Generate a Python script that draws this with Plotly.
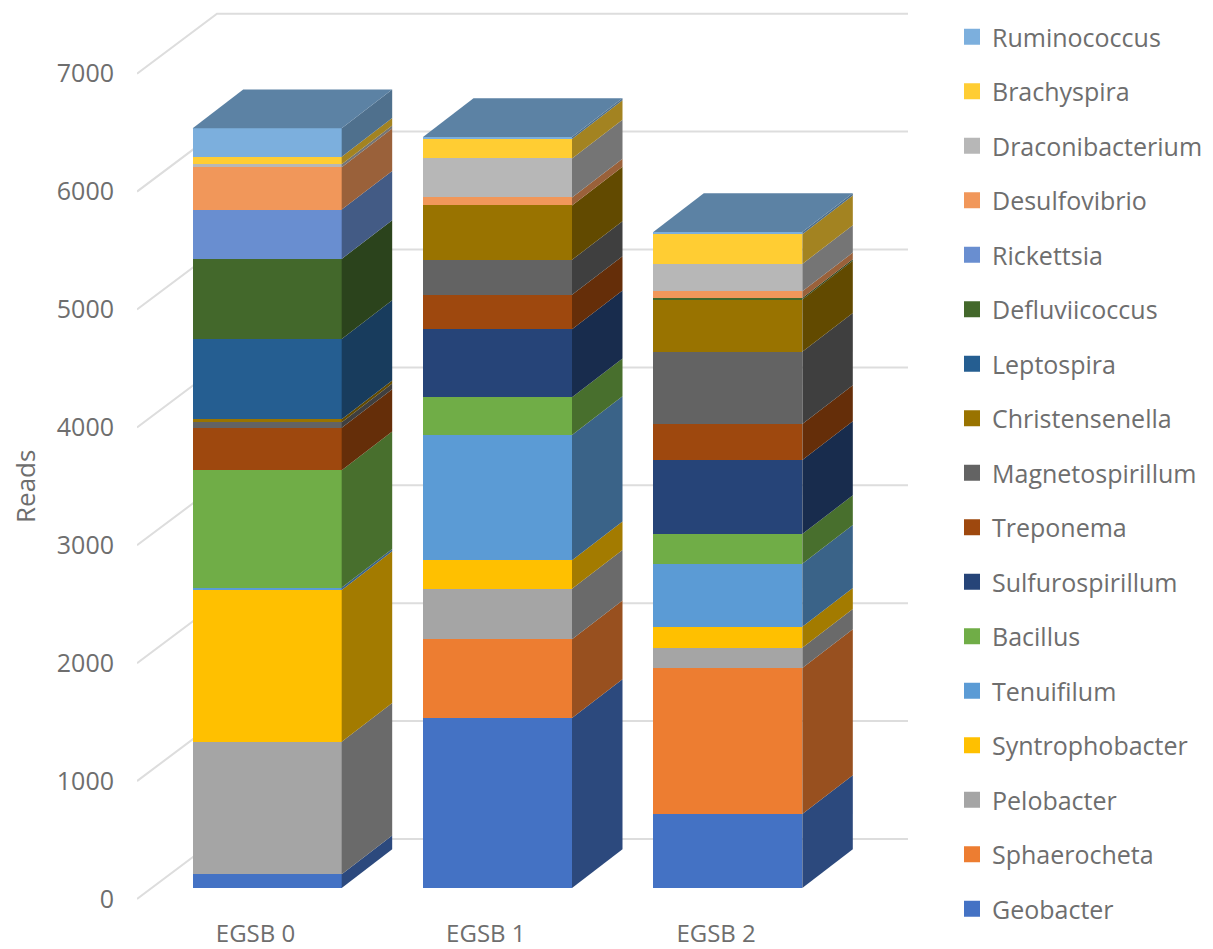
import numpy as np
import plotly.graph_objects as go

GROUPS = ["EGSB 0", "EGSB 1", "EGSB 2"]

# Stack order, bottom to top
SPECIES = [
    "Geobacter", "Sphaerocheta", "Pelobacter", "Syntrophobacter", "Tenuifilum",
    "Bacillus", "Sulfurospirillum", "Treponema", "Magnetospirillum", "Christensenella",
    "Leptospira", "Defluviicoccus", "Rickettsia", "Desulfovibrio", "Draconibacterium",
    "Brachyspira", "Ruminococcus",
]
COLORS = [
    "#4472C4", "#ED7D31", "#A5A5A5", "#FFC000", "#5B9BD5",
    "#70AD47", "#264478", "#9E480E", "#636363", "#997300",
    "#255E91", "#43682B", "#698ED0", "#F1975A", "#B7B7B7",
    "#FFCD33", "#7CAFDD",
]

# Reads per species, one list per reactor
EGSB_0 = [116, 0, 1125, 1287, 20, 996, 0, 359, 48, 25, 681, 679, 418, 360, 25, 64, 241]
EGSB_1 = [1442, 668, 429, 241, 1063, 320, 577, 291, 297, 461, 0, 0, 0, 68, 331, 165, 17]
EGSB_2 = [628, 1238, 172, 178, 534, 252, 628, 305, 613, 444, 0, 12, 0, 57, 232, 252, 20]
TICKS = [0, 1000, 2000, 3000, 4000, 5000, 6000, 7000]

# Scales of the oblique projection
PX_PER_READ = 0.1179
PX_PER_GROUP = 230.3
W, H = 1213, 949
MARGIN = dict(l=137, r=305, t=5, b=44)
PLOT_LEFT, PLOT_RIGHT = MARGIN["l"], W - MARGIN["r"]
PLOT_TOP, PLOT_BOTTOM = MARGIN["t"], H - MARGIN["b"]

BAR_WIDTH = 149 / PX_PER_GROUP
BAR_DEPTH_X = 50.5 / PX_PER_GROUP
BAR_DEPTH_Y = 38.7 / PX_PER_READ
WALL_DEPTH_X = 80 / PX_PER_GROUP
WALL_DEPTH_Y = 60 / PX_PER_READ

# Pixel anchors: the labelled axes sit on the front edge of the floor,
# the bars stand a little behind it.
AXIS_ZERO_PX, BAR_ZERO_PX = 899, 888
LABEL_CENTER_PX, BAR_CENTER_PX = 255.5, 267.2


def x_range(center):
    return [(PLOT_LEFT - center) / PX_PER_GROUP, (PLOT_RIGHT - center) / PX_PER_GROUP]


def y_range(zero):
    return [(zero - PLOT_BOTTOM) / PX_PER_READ, (zero - PLOT_TOP) / PX_PER_READ]


def shade(hex_color, k):
    rgb = [int(hex_color[i:i + 2], 16) for i in (1, 3, 5)]
    return "rgb({},{},{})".format(*[round(c * k) for c in rgb])


values = np.array([EGSB_0, EGSB_1, EGSB_2], dtype=float)
tops = values.cumsum(axis=1)
positions = list(range(len(GROUPS)))

fig = go.Figure()

# Back wall and side wall gridlines
left = x_range(LABEL_CENTER_PX)[0]
right = x_range(LABEL_CENTER_PX)[1]
grid_x, grid_y = [], []
for t in TICKS:
    grid_x += [left, left + WALL_DEPTH_X, right, None]
    grid_y += [t, t + WALL_DEPTH_Y, t + WALL_DEPTH_Y, None]
fig.add_trace(go.Scatter(
    x=grid_x, y=grid_y, mode="lines", line=dict(color="#DDDDDD", width=2),
    hoverinfo="skip", showlegend=False, xaxis="x", yaxis="y",
))

# Front faces
for s, name in enumerate(SPECIES):
    fig.add_trace(go.Bar(
        x=positions, y=values[:, s], name=name, width=BAR_WIDTH,
        marker=dict(color=COLORS[s], line=dict(width=0)),
        showlegend=False, xaxis="x2", yaxis="y2",
    ))

# Side faces and lids
for g in positions:
    edge = g + BAR_WIDTH / 2
    for s, name in enumerate(SPECIES):
        if values[g, s] <= 0:
            continue
        low, high = tops[g, s] - values[g, s], tops[g, s]
        fig.add_trace(go.Scatter(
            x=[edge, edge + BAR_DEPTH_X, edge + BAR_DEPTH_X, edge, edge],
            y=[low, low + BAR_DEPTH_Y, high + BAR_DEPTH_Y, high, low],
            mode="lines", fill="toself", fillcolor=shade(COLORS[s], 0.64),
            line=dict(width=0), hoverinfo="skip", showlegend=False,
            xaxis="x2", yaxis="y2",
        ))
    total = tops[g, -1]
    front_left = g - BAR_WIDTH / 2
    fig.add_trace(go.Scatter(
        x=[front_left, edge, edge + BAR_DEPTH_X, front_left + BAR_DEPTH_X, front_left],
        y=[total, total, total + BAR_DEPTH_Y, total + BAR_DEPTH_Y, total],
        mode="lines", fill="toself", fillcolor=shade(COLORS[-1], 0.74),
        line=dict(width=0), hoverinfo="skip", showlegend=False,
        xaxis="x2", yaxis="y2",
    ))

# Legend keys, top entry first
for s in reversed(range(len(SPECIES))):
    fig.add_trace(go.Scatter(
        x=[None], y=[None], mode="markers", name=SPECIES[s], legendgroup=SPECIES[s],
        marker=dict(symbol="square", size=16, color=COLORS[s]),
        xaxis="x2", yaxis="y2",
    ))

TEXT = "#6E6E6E"
FONT = "Open Sans"
fig.update_layout(
    width=W, height=H, margin=dict(MARGIN, pad=0, autoexpand=False),
    paper_bgcolor="white", plot_bgcolor="white",
    barmode="stack", bargap=0,
    font=dict(family=FONT, size=24, color=TEXT),
    xaxis=dict(
        range=x_range(LABEL_CENTER_PX), tickmode="array", tickvals=positions, ticktext=GROUPS,
        showgrid=False, zeroline=False, showline=False, ticks="", ticklabelstandoff=12,
        tickfont=dict(size=24), automargin=False,
    ),
    yaxis=dict(
        range=y_range(AXIS_ZERO_PX), tickmode="array", tickvals=TICKS, ticktext=[str(t) for t in TICKS],
        showgrid=False, zeroline=False, showline=False, ticks="", ticklabelstandoff=22,
        tickfont=dict(size=25), automargin=False,
    ),
    xaxis2=dict(range=x_range(BAR_CENTER_PX), overlaying="x", visible=False, anchor="y2", automargin=False),
    yaxis2=dict(range=y_range(BAR_ZERO_PX), overlaying="y", visible=False, anchor="x2", automargin=False),
    legend=dict(
        xref="container", yref="container", x=952 / W, y=1 - 14 / H,
        xanchor="left", yanchor="top", traceorder="grouped", tracegroupgap=19,
        font=dict(size=25, color=TEXT), bgcolor="rgba(0,0,0,0)", itemclick=False,
        maxheight=945,
    ),
    annotations=[dict(
        text="Reads", xref="paper", yref="paper", textangle=-90,
        x=(25 - PLOT_LEFT) / (PLOT_RIGHT - PLOT_LEFT), y=(PLOT_BOTTOM - 486) / (PLOT_BOTTOM - PLOT_TOP),
        xanchor="center", yanchor="middle", showarrow=False, font=dict(size=26, color=TEXT),
    )],
    showlegend=True,
)

fig.write_html("out.html")
